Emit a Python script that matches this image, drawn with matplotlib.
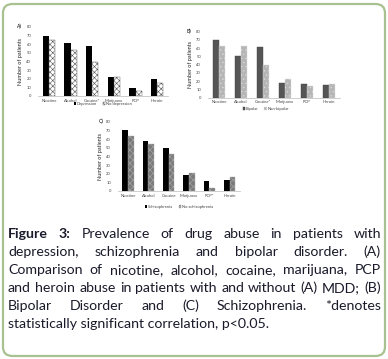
import numpy as np
import matplotlib
matplotlib.use('Agg')
import matplotlib.pyplot as plt
from matplotlib.patches import FancyBboxPatch

plt.rcParams['font.family'] = ['Lato', 'DejaVu Sans']
plt.rcParams['hatch.linewidth'] = 0.4

# data
drugs_a = ['Nicotine', 'Alcohol', 'Cocaine*', 'Marijuana', 'PCP', 'Heroin']
depression = [70, 61, 58, 22, 9, 19]
no_depression = [65, 53, 39, 22, 6, 15]

drugs_b = ['Nicotine', 'Alcohol', 'Cocaine*', 'Marijuana', 'PCP', 'Heroin']
bipolar = [70, 50, 61, 18, 17, 15]
non_bipolar = [62, 62, 39, 22, 14, 17]

drugs_c = ['Nicotine', 'Alcohol', 'Cocaine', 'Marijuana', 'PCP*', 'Heroin']
schizophrenia = [70, 58, 50, 18, 12, 13]
no_schizophrenia = [63, 54, 43, 21, 4, 16]

y_ticks = [0, 10, 20, 30, 40, 50, 60, 70, 80]

W, H = 388, 359
fig = plt.figure(figsize=(W / 100, H / 100), dpi=100)


def panel(rect, tag, labels, s1, s2, n1, n2, st1, st2, leg_y, leg_x):
    ax = fig.add_axes(rect)
    x = np.arange(len(labels))
    w = 0.28
    ax.bar(x - w / 2, s1, w, label=n1, **st1)
    ax.bar(x + w / 2, s2, w, label=n2, **st2)
    ax.set_xlim(-0.5, len(labels) - 0.5)
    ax.set_ylim(0, 80)
    ax.set_yticks(y_ticks)
    ax.set_xticks(x)
    ax.set_xticklabels(labels, fontsize=3.0, color='#444444')
    ax.tick_params(axis='y', labelsize=3.0, length=0, pad=5, labelcolor='#444444')
    ax.tick_params(axis='x', length=0, pad=2)
    for s in ['top', 'right', 'left']:
        ax.spines[s].set_visible(False)
    ax.spines['bottom'].set_color('#bbbbbb')
    ax.spines['bottom'].set_linewidth(0.5)
    ax.set_ylabel('Number of patients', fontsize=4.0, labelpad=2, color='#222222')
    ax.text(-0.16, 1.0, tag, transform=ax.transAxes, fontsize=3.6, va='center', ha='left')
    ax.legend(loc='center', bbox_to_anchor=(leg_x, leg_y), ncol=2, fontsize=3.0,
              frameon=False, handlelength=0.5, handleheight=0.5, handletextpad=0.2,
              columnspacing=1.4, borderpad=0, labelcolor='#444444')
    return ax


panel([0.098, 0.733, 0.335, 0.192], 'A)', drugs_a, depression, no_depression,
      'Depression', 'No depression',
      dict(color='black'),
      dict(facecolor='white', edgecolor='#555555', hatch='xxxxxx', linewidth=0.3),
      -0.12, 0.5)

panel([0.536, 0.728, 0.340, 0.184], 'B)', drugs_b, bipolar, non_bipolar,
      'Bipolar', 'Non-bipolar',
      dict(color='#555555', edgecolor='#444444', linewidth=0.3),
      dict(facecolor='#b5b5b5', edgecolor='#dddddd', hatch='....', linewidth=0.3),
      -0.17, 0.44)

panel([0.304, 0.468, 0.314, 0.193], 'C)', drugs_c, schizophrenia, no_schizophrenia,
      'Schizophrenia', 'No schizophrenia',
      dict(color='black'),
      dict(facecolor='#7a7a7a', edgecolor='#aaaaaa', hatch='xxxxx', linewidth=0.3),
      -0.23, 0.5)

# green rounded frame
frame = FancyBboxPatch((3 / W, 3 / H), 382 / W, 352 / H,
                       boxstyle='round,pad=0,rounding_size=0.025',
                       transform=fig.transFigure, facecolor='none',
                       edgecolor='#a8c190', linewidth=1.6, zorder=0)
fig.patches.append(frame)

# justified caption, word by word
caption = [
    [('Figure', True), ('3:', True), ('Prevalence', False), ('of', False), ('drug', False),
     ('abuse', False), ('in', False), ('patients', False), ('with', False)],
    'depression, schizophrenia and bipolar disorder. (A)',
    'Comparison of nicotine, alcohol, cocaine, marijuana, PCP',
    'and heroin abuse in patients with and without (A) MDD; (B)',
    'Bipolar Disorder and (C) Schizophrenia. *denotes',
]
last_line = 'statistically significant correlation, p<0.05.'
x0, x1 = 8, 381
y_first, step = 238, 18
text_color = '#1a1a2a'
cap_size = 10.2
fig.canvas.draw()
r = fig.canvas.get_renderer()
for i, line in enumerate(caption):
    if isinstance(line, str):
        words = [(wd, False) for wd in line.split()]
    else:
        words = line
    y = 1 - (y_first + i * step) / H
    texts = [fig.text(0, y, wd, fontsize=cap_size, va='baseline', ha='left',
                      fontweight='bold' if b else 'normal', color=text_color)
             for wd, b in words]
    widths = [t.get_window_extent(r).width for t in texts]
    gap = (x1 - x0 - sum(widths)) / (len(words) - 1)
    x = x0
    for t, wdt in zip(texts, widths):
        t.set_x(x / W)
        x += wdt + gap

fig.text(x0 / W, 1 - (y_first + len(caption) * step) / H, last_line, fontsize=cap_size,
         va='baseline', ha='left', color=text_color)

fig.savefig('out.png', dpi=100, facecolor='white')
